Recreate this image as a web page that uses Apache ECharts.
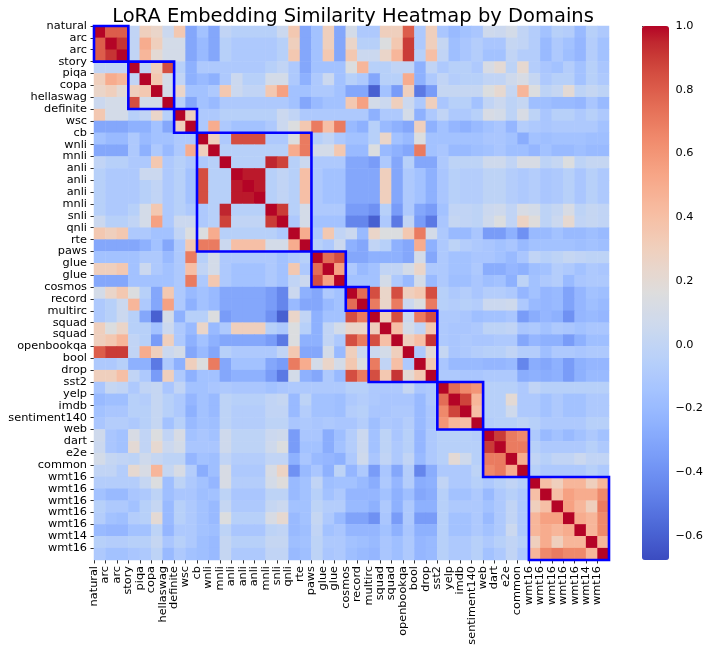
<!DOCTYPE html>
<html><head><meta charset="utf-8">
<script src="https://cdn.jsdelivr.net/npm/echarts@6/dist/echarts.min.js"></script>
<style>html,body{margin:0;padding:0;background:#fff}#c{width:706px;height:655px}</style>
</head><body><div id="c"></div><script>
const labels = ['natural','arc','arc','story','piqa','copa','hellaswag','definite','wsc','cb','wnli','mnli','anli','anli','anli','mnli','snli','qnli','rte','paws','glue','glue','cosmos','record','multirc','squad','squad','openbookqa','bool','drop','sst2','yelp','imdb','sentiment140','web','dart','e2e','common','wmt16','wmt16','wmt16','wmt16','wmt16','wmt14','wmt16'];

// upper triangle of the similarity matrix, each row starts at its diagonal
const u0 = [1,0.8,0.8,0.0,0.3,0.25,0.05,0.35,-0.3,-0.15, -0.3,0.0,-0.05,-0.05,-0.05,-0.05,0.05,0.35,-0.3,-0.15, 0.3,-0.3,0.1,-0.1,-0.1,0.3,0.3,0.8,-0.1,0.3, -0.12,-0.2,-0.15,-0.12,0.07,0.05,0.1,0.0,-0.07,-0.15, -0.05,-0.07,-0.2,-0.05,-0.1];
const u1 = [1,0.92,0.0,0.5,0.3,0.1,0.1,-0.3,-0.2, -0.3,-0.05,-0.1,-0.1,-0.1,-0.1,-0.05,0.3,-0.3,-0.15, 0.3,-0.3,0.25,-0.05,-0.05,0.15,0.35,0.9,-0.1,0.3, 0.02,-0.17,-0.12,-0.07,-0.12,-0.12,0.02,0.0,-0.07,-0.2, -0.1,-0.15,-0.22,-0.07,-0.15];
const u2 = [1,0.0,0.45,0.2,0.1,0.1,-0.3,-0.2, -0.3,-0.05,-0.1,-0.1,-0.1,-0.1,-0.05,0.35,-0.3,-0.15, 0.35,-0.3,0.35,0.05,0.05,0.25,0.45,0.9,-0.05,0.4, 0.0,-0.17,-0.12,-0.07,-0.15,-0.15,0.0,-0.07,-0.07,-0.2, -0.1,-0.17,-0.22,-0.07,-0.15];
const u3 = [1,0.0,0.3,0.85,-0.05,-0.25,-0.1, -0.1,-0.1,-0.1,-0.1,-0.1,-0.05,0.0,-0.1,-0.3,-0.15, -0.15,-0.15,0.15,0.45,-0.05,-0.05,0.0,0.0,-0.25,0.0, -0.1,-0.05,-0.05,-0.1,0.12,0.2,-0.02,0.22,-0.07,-0.12, -0.15,-0.07,-0.15,-0.05,-0.12];
const u4 = [1,0.35,0.1,0.0,-0.25,-0.2, -0.25,-0.1,0.05,-0.05,-0.05,0.1,0.1,-0.1,-0.25,-0.1, 0.05,-0.15,-0.05,-0.1,-0.3,-0.05,-0.05,0.5,-0.25,-0.1, 0.0,-0.07,-0.05,-0.05,0.0,0.0,0.07,0.12,0.02,-0.1, -0.05,-0.05,-0.15,-0.05,-0.1];
const u5 = [1,0.1,0.25,-0.15,-0.15, -0.1,0.35,0.05,0.0,0.0,0.35,0.55,-0.15,-0.15,-0.1, -0.1,-0.15,-0.3,-0.3,-0.6,-0.15,-0.35,0.3,-0.5,-0.35, 0.02,0.02,0.02,0.02,0.15,0.22,0.02,0.45,0.15,-0.02, 0.02,0.2,-0.02,0.02,-0.02];
const u6 = [1,-0.05,-0.3,-0.15, -0.2,-0.1,-0.1,-0.1,-0.1,-0.1,-0.1,-0.15,-0.3,-0.2, -0.15,-0.15,0.35,0.55,0.1,0.05,0.3,0.05,-0.1,0.3, -0.12,-0.05,-0.05,-0.15,0.0,0.05,-0.02,0.02,-0.17,-0.17, -0.2,-0.2,-0.22,-0.12,-0.2];
const u7 = [1,0.3,-0.1, -0.1,-0.05,-0.05,-0.05,-0.05,-0.05,0.05,0.0,-0.1,-0.1, -0.1,-0.1,-0.1,-0.1,-0.25,-0.1,-0.1,0.1,-0.25,-0.1, 0.0,-0.1,-0.1,-0.05,0.12,0.1,-0.02,0.12,-0.02,-0.12, -0.05,-0.05,-0.1,-0.05,-0.1];
const u8 = [1,-0.1, 0.5,-0.1,-0.15,-0.15,-0.15,-0.1,0.05,0.15,0.35,0.7, 0.4,0.7,-0.2,-0.25,-0.05,-0.2,-0.25,-0.3,0.3,-0.25, -0.15,-0.22,-0.25,-0.2,-0.15,-0.12,-0.22,-0.07,-0.1,-0.12, -0.1,-0.1,-0.1,-0.1,-0.15];
const u9 = [1, 0.3,-0.1,0.85,0.85,0.85,-0.1,-0.1,0.15,0.7,-0.05, 0.0,-0.1,-0.15,-0.15,-0.05,0.25,-0.15,-0.2,0.15,-0.15, -0.15,-0.15,-0.15,-0.15,-0.12,-0.12,-0.15,-0.27,-0.15,-0.17, -0.15,-0.15,-0.15,-0.17,-0.17];
const u10 = [1,-0.05,-0.05,-0.05,-0.05,-0.05,-0.05,0.5,0.7,0.1, 0.1,0.35,-0.2,-0.2,0.15,-0.2,-0.25,-0.3,0.7,-0.15, -0.12,-0.2,-0.2,-0.17,-0.15,-0.12,-0.17,-0.17,-0.22,-0.15, -0.2,-0.2,-0.17,-0.2,-0.2];
const u11 = [1,-0.05,-0.05,-0.05,0.95,0.88,-0.05,0.05,-0.1, -0.1,-0.1,-0.3,-0.3,-0.35,-0.1,-0.3,-0.05,-0.3,-0.3, -0.1,-0.02,-0.02,-0.02,0.07,0.07,0.0,0.12,0.12,-0.02, 0.02,0.15,-0.02,0.02,0.02];
const u12 = [1,0.97,0.97,-0.05,0.0,-0.05,0.4,-0.1, -0.15,-0.15,-0.3,-0.3,-0.3,0.3,-0.3,-0.1,-0.15,-0.25, -0.12,-0.05,-0.07,-0.07,-0.02,-0.02,-0.07,-0.1,-0.07,-0.12, -0.1,-0.05,-0.12,-0.05,-0.1];
const u13 = [1,0.97,-0.05,0.0,-0.05,0.4,-0.1, -0.15,-0.15,-0.3,-0.3,-0.3,0.3,-0.3,-0.1,-0.15,-0.25, -0.12,-0.05,-0.07,-0.07,-0.02,-0.02,-0.07,-0.1,-0.07,-0.12, -0.1,-0.05,-0.12,-0.05,-0.1];
const u14 = [1,-0.05,0.0,-0.05,0.4,-0.1, -0.15,-0.15,-0.3,-0.3,-0.3,0.3,-0.3,-0.1,-0.15,-0.25, -0.12,-0.05,-0.07,-0.07,-0.02,-0.02,-0.07,-0.1,-0.07,-0.12, -0.1,-0.05,-0.12,-0.05,-0.1];
const u15 = [1,0.9,-0.05,0.1,-0.1, -0.1,-0.1,-0.35,-0.35,-0.4,-0.05,-0.35,-0.1,-0.3,-0.35, -0.15,0.0,0.0,-0.02,0.05,0.07,0.0,0.12,0.1,-0.02, 0.02,0.12,-0.02,0.02,0.0];
const u16 = [1,-0.1,0.1,-0.15, -0.15,-0.15,-0.45,-0.45,-0.6,-0.1,-0.5,0.0,-0.35,-0.5, -0.12,0.02,0.0,-0.02,0.07,0.15,0.0,0.27,0.17,-0.02, 0.05,0.22,0.0,0.02,0.0];
const u17 = [1,0.5,-0.1, 0.35,0.0,0.05,-0.2,0.25,0.15,0.15,0.35,0.7,0.1, -0.1,-0.2,-0.2,-0.12,-0.35,-0.35,-0.25,-0.4,-0.2,-0.2, -0.15,-0.2,-0.2,-0.17,-0.2];
const u18 = [1,-0.05, -0.1,0.05,-0.25,-0.3,0.0,-0.05,-0.25,-0.3,0.5,-0.25, -0.1,-0.02,-0.07,-0.1,-0.12,-0.15,-0.12,-0.2,-0.15,-0.15, -0.15,-0.15,-0.17,-0.15,-0.17];
const u19 = [1, 0.75,0.85,-0.3,-0.3,-0.25,-0.25,-0.25,-0.3,0.1,-0.3, -0.1,-0.15,-0.15,-0.12,-0.12,-0.15,-0.2,-0.12,0.0,-0.05, -0.02,0.02,0.0,-0.02,-0.02];
const u20 = [1,0.55,-0.1,-0.2,-0.15,0.0,0.0,0.1,0.25,-0.1, -0.1,-0.15,-0.15,-0.1,-0.27,-0.27,-0.22,-0.25,-0.17,-0.15, -0.07,-0.1,-0.15,-0.1,-0.12];
const u21 = [1,-0.15,-0.15,-0.15,0.1,-0.1,-0.2,0.1,-0.2, -0.1,-0.17,-0.17,-0.12,-0.17,-0.15,-0.25,-0.02,-0.15,-0.1, -0.07,-0.2,-0.12,-0.1,-0.1];
const u22 = [1,0.75,0.85,0.25,0.85,0.3,0.35,0.85, -0.05,-0.1,-0.07,-0.12,-0.07,-0.07,-0.1,-0.22,-0.15,-0.22, -0.2,-0.32,-0.22,-0.15,-0.17];
const u23 = [1,0.7,0.25,0.7,0.05,0.15,0.7, -0.05,-0.07,-0.05,-0.07,0.05,0.05,0.07,-0.1,-0.2,-0.22, -0.2,-0.32,-0.22,-0.17,-0.2];
const u24 = [1,0.3,0.85,0.05,0.7,0.85, -0.1,-0.1,-0.12,-0.17,-0.15,-0.15,-0.12,-0.35,-0.27,-0.22, -0.25,-0.4,-0.22,-0.2,-0.22];
const u25 = [1,0.4,0.1,0.0,0.35, -0.1,-0.12,-0.12,-0.1,-0.02,-0.02,0.0,-0.12,-0.1,-0.15, -0.1,-0.12,-0.15,-0.12,-0.12];
const u26 = [1,0.3,0.4,0.92, -0.1,-0.12,-0.1,-0.12,-0.12,-0.1,-0.1,-0.3,-0.22,-0.25, -0.25,-0.35,-0.25,-0.17,-0.17];
const u27 = [1,-0.1,0.2, 0.02,-0.12,-0.1,-0.07,-0.05,-0.05,0.0,-0.07,-0.07,-0.17, -0.1,-0.1,-0.12,-0.1,-0.1];
const u28 = [1,0.35, -0.12,-0.2,-0.2,-0.2,-0.22,-0.22,-0.2,-0.45,-0.27,-0.3, -0.25,-0.35,-0.25,-0.22,-0.22];
const u29 = [1, -0.1,-0.1,-0.12,-0.12,-0.1,-0.1,-0.1,-0.27,-0.25,-0.27, -0.25,-0.35,-0.25,-0.2,-0.2];
const u30 = [1,0.75,0.65,0.6,-0.05,-0.05,-0.05,-0.1,0.0,-0.05,-0.05,-0.05,-0.05,-0.05,-0.05];
const u31 = [1,0.88,0.45,-0.05,-0.05,0.2,-0.1,-0.1,-0.15,-0.1,-0.15,-0.15,-0.1,-0.1];
const u32 = [1,0.4,-0.05,-0.05,0.07,-0.1,-0.1,-0.15,-0.1,-0.15,-0.15,-0.1,-0.1];
const u33 = [1,-0.07,-0.05,-0.05,-0.02,-0.05,-0.1,-0.1,-0.1,-0.1,-0.05,-0.05];
const u34 = [1,0.9,0.7,0.65,-0.1,-0.2,-0.15,-0.2,-0.15,-0.1,-0.15];
const u35 = [1,0.7,0.7,-0.05,-0.1,-0.1,-0.1,-0.1,-0.05,-0.1];
const u36 = [1,0.5,0.0,-0.05,0.0,0.0,0.05,0.0,0.0];
const u37 = [1,-0.05,-0.1,-0.1,-0.1,-0.1,-0.05,-0.1];
const u38 = [1,0.4,0.3,0.45,0.45,0.3,0.45];
const u39 = [1,0.4,0.55,0.5,0.5,0.65];
const u40 = [1,0.55,0.45,0.3,0.7];
const u41 = [1,0.5,0.45,0.65];
const u42 = [1,0.45,0.65];
const u43 = [1,0.45];
const u44 = [1];

// domain groups outlined in blue: [start, end) indices
const boxGroups = [[0,3],[3,7],[7,9],[9,19],[19,22],[22,24],[24,30],[30,34],[34,38],[38,45]];
const colorbarTicks = [-0.6,-0.4,-0.2,0.0,0.2,0.4,0.6,0.8,1.0];
const vMin = -0.675, vMax = 1.0;

const coolwarm = ['#3b4cc0','#445acc','#4d68d7','#5775e1','#6282ea','#6c8ef1','#779af7','#82a5fb','#8db0fe','#98b9ff','#a3c2ff','#aec9fd','#b8d0f9','#c2d5f4','#ccd9ee','#d5dbe6','#dddddd','#e5d8d1','#ecd3c5','#f1cdb8','#f5c4ac','#f7bba0','#f7b194','#f7a687','#f49a7b','#f18d6f','#ec7f63','#e57058','#de604d','#d55042','#cb3e38','#c0282f','#b40426'];

const upper = [u0,u1,u2,u3,u4,u5,u6,u7,u8,u9,u10,u11,u12,u13,u14,u15,u16,u17,u18,u19,u20,u21,u22,u23,u24,u25,u26,u27,u28,u29,u30,u31,u32,u33,u34,u35,u36,u37,u38,u39,u40,u41,u42,u43,u44];
const n = labels.length;
upper.forEach((r, i) => { if (r.length !== n - i) console.warn('row', i, 'length', r.length, 'expected', n - i); });
const cells = [];
for (let i = 0; i < n; i++) {
  for (let j = 0; j < n; j++) {
    const v = j >= i ? upper[i][j - i] : upper[j][i - j];
    cells.push([j, i, v]);
  }
}
const idx = labels.map((_, i) => String(i));
const tickPos = labels.map((_, i) => i);
const FONT = 'DejaVu Sans';
const TICK_FS = 11.3;

const chart = echarts.init(document.getElementById('c'), null, {renderer: 'canvas'});
chart.setOption({
  animation: false,
  backgroundColor: '#ffffff',
  title: {
    text: 'LoRA Embedding Similarity Heatmap by Domains',
    left: 'center', top: 2,
    textStyle: {fontFamily: FONT, fontSize: 19.5, fontWeight: 'normal', color: '#000'}
  },
  grid: [
    {left: 94, top: 26, width: 515, height: 534},
    {left: 642, top: 26, width: 27, height: 534}
  ],
  xAxis: [
    {type: 'category', gridIndex: 0, data: idx, show: false},
    {type: 'value', gridIndex: 0, min: 0, max: n, position: 'bottom',
      axisLine: {show: false}, splitLine: {show: false},
      axisTick: {show: true, length: 3.5, customValues: tickPos, lineStyle: {color: '#000', width: 0.8}},
      axisLabel: {customValues: tickPos, rotate: 90, margin: 6, fontFamily: FONT, fontSize: TICK_FS, color: '#000',
        formatter: v => labels[Math.round(v)] || ''}},
    {type: 'value', gridIndex: 1, show: false, min: 0, max: 1}
  ],
  yAxis: [
    {type: 'category', gridIndex: 0, data: idx, inverse: true, show: false},
    {type: 'value', gridIndex: 0, min: 0, max: n, inverse: true, position: 'left',
      axisLine: {show: false}, splitLine: {show: false},
      axisTick: {show: true, length: 3.5, customValues: tickPos, lineStyle: {color: '#000', width: 0.8}},
      axisLabel: {customValues: tickPos, margin: 7, fontFamily: FONT, fontSize: TICK_FS, color: '#000',
        formatter: v => labels[Math.round(v)] || ''}},
    {type: 'value', gridIndex: 1, min: vMin, max: vMax, position: 'right',
      axisLine: {show: false}, splitLine: {show: false},
      axisTick: {show: true, length: 3.5, customValues: colorbarTicks, lineStyle: {color: '#000', width: 0.8}},
      axisLabel: {customValues: colorbarTicks, margin: 7, fontFamily: FONT, fontSize: TICK_FS, color: '#000',
        formatter: v => (v < -1e-9 ? '\u2212' : '') + Math.abs(v).toFixed(1)}}
  ],
  visualMap: {
    type: 'continuous', min: vMin, max: vMax, seriesIndex: 0,
    orient: 'vertical', left: 642, top: 26, itemWidth: 27, itemHeight: 534,
    padding: 0, calculable: false, hoverLink: false, realtime: false,
    text: null, showLabel: false,
    inRange: {color: coolwarm}
  },
  series: [
    {type: 'heatmap', xAxisIndex: 0, yAxisIndex: 0, data: cells,
      itemStyle: {borderWidth: 0}, emphasis: {disabled: true}, progressive: 0},
    {type: 'custom', xAxisIndex: 1, yAxisIndex: 1, data: boxGroups, clip: false, z: 10, silent: true,
      renderItem: (params, api) => {
        const a = api.value(0), b = api.value(1);
        const p1 = api.coord([a, a]);
        const p2 = api.coord([b, b]);
        return {type: 'rect', shape: {x: p1[0], y: p1[1], width: p2[0] - p1[0], height: p2[1] - p1[1]},
          style: {fill: 'none', stroke: '#0000ff', lineWidth: 2.6}};
      }}
  ]
});
</script></body></html>
